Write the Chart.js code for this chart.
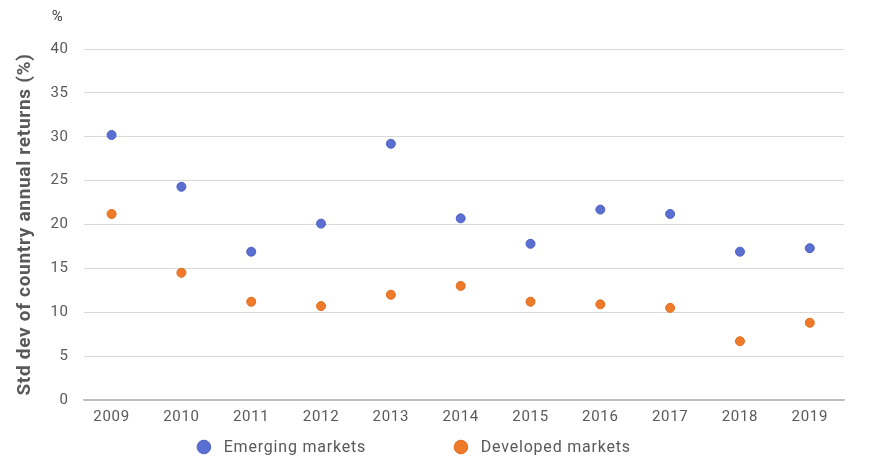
<!DOCTYPE html>
<html>
<head>
<meta charset="utf-8">
<script src="https://cdn.jsdelivr.net/npm/chart.js@4/dist/chart.umd.min.js"></script>
<style>
  html, body { margin: 0; padding: 0; background: #fff; }
  #wrap { width: 870px; height: 465px; }
</style>
</head>
<body>
<div id="wrap"><canvas id="stdChart"></canvas></div>
<script>
// Data
const years = [2009, 2010, 2011, 2012, 2013, 2014, 2015, 2016, 2017, 2018, 2019];
const emerging = [30.2, 24.3, 16.9, 20.1, 29.2, 20.7, 17.8, 21.7, 21.2, 16.9, 17.3];
const developed = [21.2, 14.5, 11.2, 10.7, 12.0, 13.0, 11.2, 10.9, 10.5, 6.7, 8.8];
const yTicks = [0, 5, 10, 15, 20, 25, 30, 35, 40];

const textColor = '#595959';
const fontFamily = 'Roboto, "Noto Sans", sans-serif';

// slightly spaced-out lettering, like the original
const spacing = {
  id: 'spacing',
  beforeDraw(chart) {
    if ('letterSpacing' in chart.ctx) chart.ctx.letterSpacing = '0.7px';
  }
};

// "%" unit label above the y tick labels
const unitLabel = {
  id: 'unitLabel',
  afterDraw(chart) {
    const ctx = chart.ctx;
    const y = chart.scales.y;
    ctx.save();
    ctx.font = '15px ' + fontFamily;
    ctx.fillStyle = '#404040';
    ctx.textAlign = 'center';
    ctx.textBaseline = 'middle';
    ctx.fillText('%', y.right - 26, 17);
    ctx.restore();
  }
};

// Bottom legend with wide gap between items (the built-in one pads vertically too)
const wideLegend = {
  id: 'wideLegend',
  afterDraw(chart) {
    const ctx = chart.ctx;
    const sets = chart.data.datasets;
    const r = 6.8, gapText = 13, gapItem = 88;
    ctx.save();
    ctx.font = '16px ' + fontFamily;
    if ('letterSpacing' in ctx) ctx.letterSpacing = '0.8px';
    const widths = sets.map(ds => r * 2 + gapText + ctx.measureText(ds.label).width);
    const total = widths.reduce((a, b) => a + b, 0) + gapItem * (sets.length - 1);
    let x = 414 - total / 2;
    const cy = 447;
    sets.forEach((ds, i) => {
      ctx.beginPath();
      ctx.arc(x + r, cy, r, 0, Math.PI * 2);
      ctx.fillStyle = ds.backgroundColor;
      ctx.fill();
      ctx.lineWidth = 1;
      ctx.strokeStyle = ds.borderColor;
      ctx.stroke();
      ctx.fillStyle = textColor;
      ctx.textAlign = 'left';
      ctx.textBaseline = 'middle';
      ctx.fillText(ds.label, x + r * 2 + gapText, cy + 1);
      x += widths[i] + gapItem;
    });
    ctx.restore();
  }
};

const toPoints = vals => years.map((yr, i) => ({ x: yr, y: vals[i] }));

const ctx = document.getElementById('stdChart').getContext('2d');
new Chart(ctx, {
  type: 'scatter',
  data: {
    datasets: [
      {
        label: 'Emerging markets',
        data: toPoints(emerging),
        backgroundColor: '#5b6fd1',
        borderColor: '#4d61c4',
        borderWidth: 1,
        pointRadius: 4.5
      },
      {
        label: 'Developed markets',
        data: toPoints(developed),
        backgroundColor: '#ee7a2a',
        borderColor: '#e06c1e',
        borderWidth: 1,
        pointRadius: 4.5
      }
    ]
  },
  options: {
    responsive: true,
    maintainAspectRatio: false,
    animation: false,
    layout: { padding: { top: 49, right: 26, left: 14, bottom: 39 } },
    scales: {
      x: {
        type: 'linear',
        min: 2008.6,
        max: 2019.49,
        afterBuildTicks: axis => { axis.ticks = years.map(v => ({ value: v })); },
        grid: { display: false },
        border: { color: '#bfbfbf', width: 1.5 },
        ticks: {
          color: textColor,
          font: { family: fontFamily, size: 15 },
          padding: 0,
          callback: v => String(v)
        }
      },
      y: {
        min: 0,
        max: 40,
        afterBuildTicks: axis => { axis.ticks = yTicks.map(v => ({ value: v })); },
        grid: {
          color: ctx => ctx.tick && ctx.tick.value === 0 ? '#bfbfbf' : '#d9d9d9',
          drawTicks: false
        },
        border: { display: false },
        ticks: {
          color: textColor,
          font: { family: fontFamily, size: 15 },
          padding: 15
        },
        title: {
          display: true,
          text: 'Std dev of country annual returns (%)',
          color: textColor,
          font: { family: fontFamily, size: 19, weight: 'bold' },
          padding: 0
        }
      }
    },
    plugins: {
      legend: { display: false },
      tooltip: { enabled: false }
    }
  },
  plugins: [spacing, unitLabel, wideLegend]
});
</script>
</body>
</html>
